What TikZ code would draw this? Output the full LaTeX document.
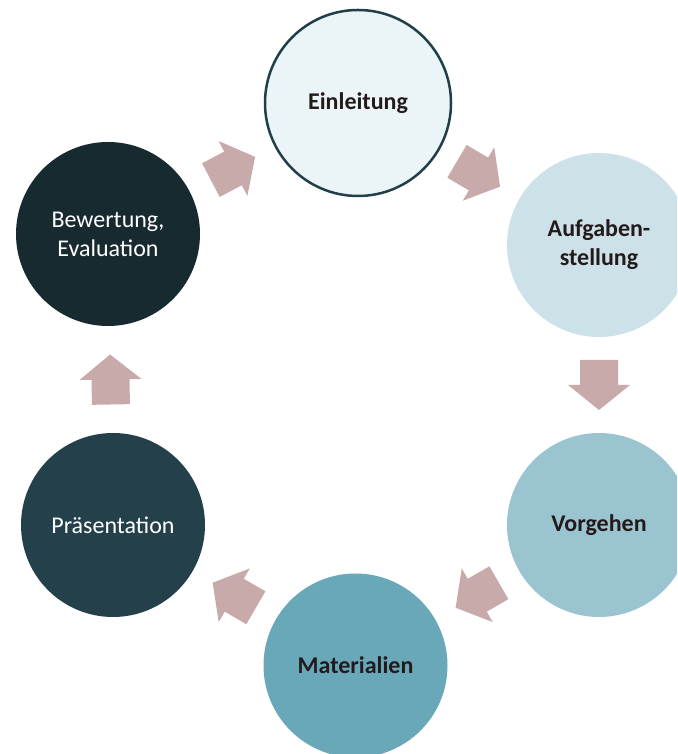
\documentclass[tikz,border=0pt]{standalone}
\usepackage{fontspec}
\setmainfont{Carlito}
\usetikzlibrary{calc}
\definecolor{arrowc}{HTML}{C9AAAA}
\definecolor{einfill}{HTML}{EBF4F6}
\definecolor{einborder}{HTML}{213F48}
\definecolor{aufgfill}{HTML}{CDE2E8}
\definecolor{vorgfill}{HTML}{9AC4CF}
\definecolor{matfill}{HTML}{68A8B9}
\definecolor{praesfill}{HTML}{23404B}
\definecolor{bewfill}{HTML}{172A30}
\definecolor{textdark}{HTML}{241A1C}
\tikzset{
  phase/.style={circle, minimum size=184pt, inner sep=0pt, align=center,
    font=\fontsize{24}{29}\selectfont},
  lightphase/.style={phase, text=textdark, font=\fontsize{24}{29}\selectfont\bfseries},
  darkphase/.style={phase, text=white},
  blockarr/.style={fill=arrowc},
}
\newcommand{\blockarrow}[2]{%
  \coordinate (m) at ($(#1)!0.5!(#2)$);
  \path let \p1=($(#2)-(#1)$) in \pgfextra{\pgfmathsetmacro\arrang{atan2(\y1,\x1)}\xdef\arrang{\arrang}};
  \fill[blockarr, shift={(m)}, rotate=\arrang]
    (-25,-19) -- (0,-19) -- (0,-31) -- (25,0) -- (0,31) -- (0,19) -- (-25,19) -- cycle;
}
\begin{document}
\begin{tikzpicture}[x=1pt,y=1pt]
\useasboundingbox (0,0) rectangle (677,754);
\clip (0,0) rectangle (677,754);
\node[lightphase, fill=einfill, draw=einborder, line width=2.5pt, minimum size=186pt] (ein) at (358,651) {Einleitung};
\node[lightphase, fill=aufgfill] (aufg) at (599,509) {Aufgaben-\\stellung};
\node[lightphase, fill=vorgfill] (vorg) at (599,229) {Vorgehen};
\node[lightphase, fill=matfill] (mat) at (355.5,88.5) {Materialien};
\node[darkphase, fill=praesfill] (praes) at (113,229) {Präsentation};
\node[darkphase, fill=bewfill] (bew) at (108,520) {Bewertung,\\Evaluation};
\blockarrow{bew}{ein}
\blockarrow{ein}{aufg}
\blockarrow{aufg}{vorg}
\blockarrow{vorg}{mat}
\blockarrow{mat}{praes}
\blockarrow{praes}{bew}
\end{tikzpicture}
\end{document}
